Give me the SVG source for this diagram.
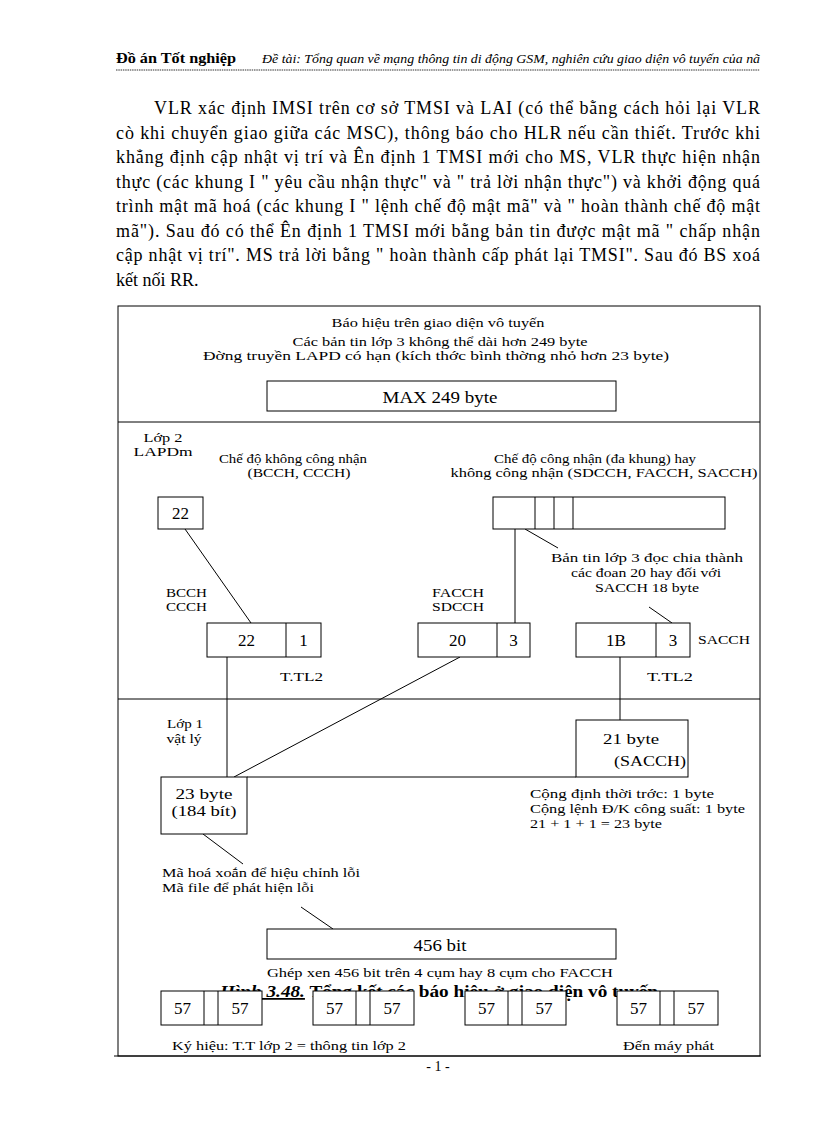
<svg xmlns="http://www.w3.org/2000/svg" width="816" height="1123" viewBox="0 0 816 1123">
<style>
.s{font-family:"Liberation Serif","Times New Roman",serif;fill:#000}
.b{font-size:18px}
.l{font-size:13.5px}
.m{font-size:17px}
.c{text-anchor:middle}
.bx{fill:#fff;stroke:#000;stroke-width:1}
.ln{stroke:#000;stroke-width:1;fill:none}
</style>
<rect width="816" height="1123" fill="#fff"/>
<g id="header">
<text class="s" x="116" y="63" font-size="14.5" font-weight="bold" textLength="120" lengthAdjust="spacingAndGlyphs">Đồ án Tốt nghiệp</text>
<text class="s" x="262" y="63" font-size="12" font-style="italic" textLength="498" lengthAdjust="spacingAndGlyphs">Đề tài: Tổng quan về mạng thông tin di động GSM, nghiên cứu giao diện vô tuyến của nã</text>
<line x1="116" y1="70" x2="760" y2="70" stroke="#333" stroke-width="1.2" stroke-dasharray="1.5 0.8"/>
</g>
<g id="paragraph" class="s b">
<text x="154" y="114" textLength="606" lengthAdjust="spacing">VLR xác định IMSI trên cơ sở TMSI và LAI (có thể bằng cách hỏi lại  VLR</text>
<text x="116" y="138.5" textLength="644" lengthAdjust="spacing">cò khi chuyển giao giữa các MSC), thông báo cho HLR nếu cần thiết.  Trước khi</text>
<text x="116" y="163" textLength="644" lengthAdjust="spacing">khẳng định cập nhật vị trí và Ên định 1 TMSI mới cho MS, VLR thực hiện nhận</text>
<text x="116" y="187.5" textLength="644" lengthAdjust="spacing">thực (các khung I " yêu cầu nhận thực" và " trả lời nhận thực") và khởi động quá</text>
<text x="116" y="212" textLength="644" lengthAdjust="spacing">trình mật mã hoá (các khung I " lệnh chế độ mật mã" và " hoàn thành chế độ mật</text>
<text x="116" y="236.5" textLength="644" lengthAdjust="spacing">mã"). Sau đó có thể Ên định 1 TMSI mới bằng bản tin được mật mã " chấp nhận</text>
<text x="116" y="261" textLength="644" lengthAdjust="spacing">cập nhật vị trí". MS trả lời bằng " hoàn thành cấp phát lại TMSI". Sau đó BS xoá</text>
<text x="116" y="285.5">kết nối RR.</text>
</g>
<g id="frame">
<rect x="118" y="306" width="642" height="750" class="ln"/>
<line x1="114" y1="1056" x2="761" y2="1056" class="ln"/>
<line x1="118" y1="422" x2="760" y2="422" class="ln"/>
<line x1="118" y1="699" x2="760" y2="699" class="ln"/>
</g>
<g id="top-labels" class="s l c">
<text x="438" y="327" textLength="213" lengthAdjust="spacingAndGlyphs">Báo hiệu trên giao diện vô tuyến</text>
<text x="440" y="346" font-size="12.5" textLength="295" lengthAdjust="spacingAndGlyphs">Các bản tin lớp 3 không thể dài hơn 249 byte</text>
<text x="436" y="360" font-size="12.5" textLength="466" lengthAdjust="spacingAndGlyphs">Đờng   truyền LAPD có hạn (kích thớc   bình thờng   nhỏ hơn 23 byte)</text>
</g>
<g id="max249">
<rect x="267" y="381" width="349" height="30" class="bx"/>
<text class="s c" x="440" y="403" font-size="17" textLength="115" lengthAdjust="spacingAndGlyphs">MAX 249 byte</text>
</g>
<g id="connectors" class="ln">
<line x1="185" y1="529" x2="251" y2="623"/>
<line x1="515" y1="529" x2="515" y2="623"/>
<line x1="525" y1="529" x2="558" y2="548"/>
<line x1="649" y1="607" x2="672" y2="623"/>
<line x1="227" y1="657" x2="227" y2="777"/>
<line x1="460" y1="657" x2="234" y2="777"/>
<line x1="620" y1="657" x2="620" y2="720"/>
<line x1="247" y1="777" x2="576" y2="777"/>
<line x1="203" y1="834" x2="243" y2="864"/>
<line x1="301" y1="907" x2="333" y2="929"/>
</g>
<g id="layer2-labels" class="s l">
<text class="c" x="163" y="442" textLength="39" lengthAdjust="spacingAndGlyphs">Lớp 2</text>
<text class="c" x="163" y="456" textLength="59" lengthAdjust="spacingAndGlyphs">LAPDm</text>
<text class="c" x="293" y="463" textLength="148" lengthAdjust="spacingAndGlyphs">Chế độ không công nhận</text>
<text class="c" x="299" y="477" textLength="103" lengthAdjust="spacingAndGlyphs">(BCCH, CCCH)</text>
<text class="c" x="595" y="463" textLength="202" lengthAdjust="spacingAndGlyphs">Chế độ công nhận (đa khung) hay</text>
<text class="c" x="604" y="477" textLength="307" lengthAdjust="spacingAndGlyphs">không công nhận (SDCCH, FACCH, SACCH)</text>
<text class="c" x="647" y="562" textLength="192" lengthAdjust="spacingAndGlyphs">Bản tin lớp 3 đọc   chia thành</text>
<text class="c" x="646" y="577" textLength="150" lengthAdjust="spacingAndGlyphs">các đoan 20 hay đối với</text>
<text class="c" x="647" y="592" textLength="104" lengthAdjust="spacingAndGlyphs">SACCH 18 byte</text>
<text x="166" y="597" textLength="41" lengthAdjust="spacingAndGlyphs">BCCH</text>
<text x="166" y="611" textLength="41" lengthAdjust="spacingAndGlyphs">CCCH</text>
<text x="432" y="597" textLength="52" lengthAdjust="spacingAndGlyphs">FACCH</text>
<text x="432" y="611" textLength="52" lengthAdjust="spacingAndGlyphs">SDCCH</text>
<text x="698" y="644" textLength="52" lengthAdjust="spacingAndGlyphs">SACCH</text>
<text x="280" y="681" textLength="43" lengthAdjust="spacingAndGlyphs">T.TL2</text>
<text x="647" y="681" textLength="46" lengthAdjust="spacingAndGlyphs">T.TL2</text>
</g>
<g id="box22">
<rect x="158" y="497" width="45" height="32" class="bx"/>
<text class="s m c" x="180.5" y="519">22</text>
</g>
<g id="box-multiframe">
<rect x="493" y="497" width="232" height="32" class="bx"/>
<line x1="535" y1="497" x2="535" y2="529" class="ln"/>
<line x1="554" y1="497" x2="554" y2="529" class="ln"/>
<line x1="573" y1="497" x2="573" y2="529" class="ln"/>
</g>
<g id="box22-1">
<rect x="207" y="623" width="114" height="34" class="bx"/>
<line x1="286" y1="623" x2="286" y2="657" class="ln"/>
<text class="s m c" x="246.5" y="646">22</text>
<text class="s m c" x="303.5" y="646">1</text>
</g>
<g id="box20-3">
<rect x="418" y="623" width="112" height="34" class="bx"/>
<line x1="497" y1="623" x2="497" y2="657" class="ln"/>
<text class="s m c" x="457.5" y="646">20</text>
<text class="s m c" x="513.5" y="646">3</text>
</g>
<g id="box1B-3">
<rect x="576" y="623" width="114" height="34" class="bx"/>
<line x1="656" y1="623" x2="656" y2="657" class="ln"/>
<text class="s m c" x="616" y="646">1B</text>
<text class="s m c" x="673" y="646">3</text>
</g>
<g id="layer1-labels" class="s l">
<text class="c" x="185" y="728" textLength="36" lengthAdjust="spacingAndGlyphs">Lớp 1</text>
<text class="c" x="184" y="743" textLength="35" lengthAdjust="spacingAndGlyphs">vật lý</text>
<text x="530" y="798" textLength="184" lengthAdjust="spacingAndGlyphs">Cộng định thời trớc:   1 byte</text>
<text x="530" y="813" textLength="215" lengthAdjust="spacingAndGlyphs">Cộng lệnh Đ/K công suất: 1 byte</text>
<text x="530" y="828" textLength="132" lengthAdjust="spacingAndGlyphs">21 + 1 + 1 = 23 byte</text>
<text x="162" y="877" textLength="198" lengthAdjust="spacingAndGlyphs">Mã hoá xoắn để hiệu chỉnh lỗi</text>
<text x="162" y="892" textLength="152" lengthAdjust="spacingAndGlyphs">Mã file  để phát hiện lỗi</text>
<text class="c" x="440" y="977" textLength="346" lengthAdjust="spacingAndGlyphs">Ghép xen 456 bit trên 4 cụm hay 8 cụm cho FACCH</text>
<text x="172" y="1050" textLength="234" lengthAdjust="spacingAndGlyphs">Ký hiệu: T.T lớp 2 = thông tin lớp 2</text>
<text x="623" y="1050" textLength="91" lengthAdjust="spacingAndGlyphs">Đến máy phát</text>
</g>
<g id="box21">
<rect x="576" y="720" width="112" height="57" class="bx"/>
<text class="s" x="603" y="744" font-size="15.5" textLength="56" lengthAdjust="spacingAndGlyphs">21 byte</text>
<text class="s" x="614" y="766" font-size="15.5" textLength="72" lengthAdjust="spacingAndGlyphs">(SACCH)</text>
</g>
<g id="box23">
<rect x="161" y="777" width="86" height="57" class="bx"/>
<text class="s c" x="204" y="799" font-size="15.5" textLength="57" lengthAdjust="spacingAndGlyphs">23 byte</text>
<text class="s c" x="204" y="816" font-size="15.5" textLength="65" lengthAdjust="spacingAndGlyphs">(184 bít)</text>
</g>
<g id="box456">
<rect x="267" y="929" width="349" height="30" class="bx"/>
<text class="s c" x="440" y="951" font-size="16.5" textLength="53" lengthAdjust="spacingAndGlyphs">456 bit</text>
</g>
<g id="caption" class="s" font-size="17.5" font-weight="bold">
<text x="220" y="997" textLength="438" lengthAdjust="spacingAndGlyphs"><tspan font-style="italic" text-decoration="underline">Hình 3.48.</tspan> Tổng kết các báo hiệu ở giao diện vô tuyến</text>
</g>
<g id="bursts">
<g id="burst1">
<rect x="161" y="991" width="101" height="34" class="bx"/>
<line x1="204" y1="991" x2="204" y2="1025" class="ln"/>
<line x1="218" y1="991" x2="218" y2="1025" class="ln"/>
<text class="s m c" x="182.5" y="1014">57</text>
<text class="s m c" x="240" y="1014">57</text>
</g>
<g id="burst2">
<rect x="313" y="991" width="101" height="34" class="bx"/>
<line x1="356" y1="991" x2="356" y2="1025" class="ln"/>
<line x1="370" y1="991" x2="370" y2="1025" class="ln"/>
<text class="s m c" x="334.5" y="1014">57</text>
<text class="s m c" x="392" y="1014">57</text>
</g>
<g id="burst3">
<rect x="465" y="991" width="101" height="34" class="bx"/>
<line x1="508" y1="991" x2="508" y2="1025" class="ln"/>
<line x1="522" y1="991" x2="522" y2="1025" class="ln"/>
<text class="s m c" x="486.5" y="1014">57</text>
<text class="s m c" x="544" y="1014">57</text>
</g>
<g id="burst4">
<rect x="617" y="991" width="101" height="34" class="bx"/>
<line x1="660" y1="991" x2="660" y2="1025" class="ln"/>
<line x1="674" y1="991" x2="674" y2="1025" class="ln"/>
<text class="s m c" x="638.5" y="1014">57</text>
<text class="s m c" x="696" y="1014">57</text>
</g>
</g>
<g id="footer">
<text class="s c" x="438" y="1071" font-size="14">- 1 -</text>
</g>
</svg>
